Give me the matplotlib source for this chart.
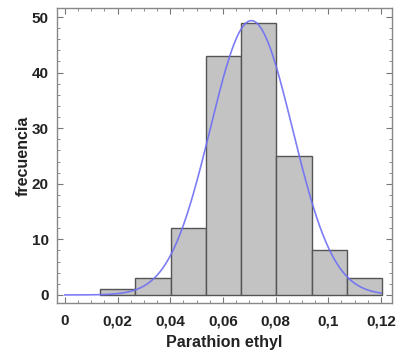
import numpy as np
import matplotlib.pyplot as plt
from matplotlib.ticker import MultipleLocator, FuncFormatter

# histogram data
bin_edges = [0.0133, 0.0267, 0.0401, 0.0535, 0.0669, 0.0803, 0.0937, 0.1071, 0.1205]
counts = [1, 3, 12, 43, 49, 25, 8, 3]

# fitted normal curve parameters
fit_mean = 0.0708
fit_sd = 0.0156
curve_range = (0.0, 0.12)

plt.rcParams['font.family'] = ['Liberation Sans', 'DejaVu Sans']

fig = plt.figure(figsize=(4.0, 3.53), dpi=100)
ax = fig.add_axes([0.1425, 0.1416, 0.8375, 0.8354])

widths = np.diff(bin_edges)
ax.bar(bin_edges[:-1], counts, width=widths, align='edge',
       color='#c3c3c3', edgecolor='#555555', linewidth=1.0, zorder=2)

# normal density scaled to counts
n = sum(counts)
bw = np.mean(widths)
xs = np.linspace(curve_range[0], curve_range[1], 300)
ys = n * bw / (fit_sd * np.sqrt(2 * np.pi)) * np.exp(-0.5 * ((xs - fit_mean) / fit_sd) ** 2)
ax.plot(xs, ys, color='#6f6ff5', linewidth=1.2, alpha=0.9, zorder=3)

ax.set_xlim(-0.003, 0.1242)
ax.set_ylim(-1.45, 51.6)

ax.xaxis.set_major_locator(MultipleLocator(0.02))
ax.xaxis.set_minor_locator(MultipleLocator(0.005))
ax.yaxis.set_major_locator(MultipleLocator(10))
ax.yaxis.set_minor_locator(MultipleLocator(2))

def comma_fmt(v, pos):
    s = f"{v:.2f}".rstrip('0').rstrip('.')
    if s in ('-0', ''):
        s = '0'
    return s.replace('.', ',')

ax.xaxis.set_major_formatter(FuncFormatter(comma_fmt))

ax.tick_params(which='both', direction='in', top=True, right=True,
               color='#777777', labelcolor='#222222')
ax.tick_params(which='major', length=4, labelsize=11)
ax.tick_params(axis='x', which='major', pad=8)
ax.tick_params(axis='y', which='major', pad=6)
ax.tick_params(which='minor', length=2)
for lab in ax.get_xticklabels() + ax.get_yticklabels():
    lab.set_fontweight('bold')

for sp in ax.spines.values():
    sp.set_color('#888888')
    sp.set_linewidth(1.0)

ax.set_xlabel('Parathion ethyl', fontsize=11.5, fontweight='bold', color='#222222', labelpad=5)
ax.set_ylabel('frecuencia', fontsize=11.5, fontweight='bold', color='#222222', labelpad=1)

fig.savefig('out.png', dpi=100)
